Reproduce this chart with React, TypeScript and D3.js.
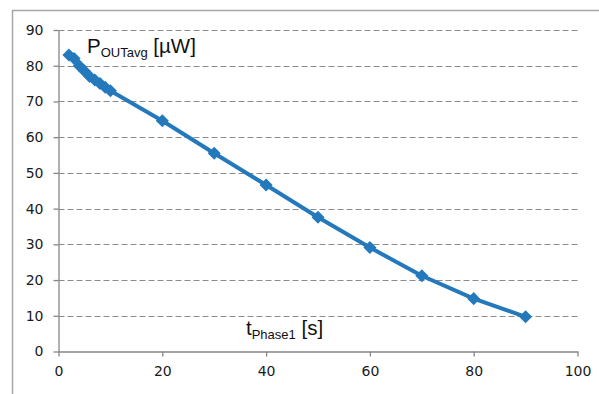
import { useEffect, useRef } from 'react';
import * as d3 from 'd3';

// t_Phase1 [s]
const phaseTimes = [2, 3, 4, 5, 6, 7, 8, 9, 10, 20, 30, 40, 50, 60, 70, 80, 90];
// P_OUTavg [µW]
const powerValues = [83, 82, 80, 78.5, 77, 76, 75, 74, 73, 64.6, 55.5, 46.6, 37.6, 29.1, 21.2, 14.8, 9.7];
const xTicks = [0, 20, 40, 60, 80, 100];
const yTicks = [0, 10, 20, 30, 40, 50, 60, 70, 80, 90];

function App() {
  const ref = useRef<SVGSVGElement>(null);

  useEffect(() => {
    drawChart();
    // eslint-disable-next-line
  }, []);

  function drawChart() {
    const config = {
      left: 58.5,
      right: 577.5,
      top: 30,
      bottom: 351.5
    };

    const svg = d3.select(ref.current);
    svg.selectAll('*').remove();

    const x = d3.scaleLinear().domain([0, 100]).range([config.left, config.right]);
    const y = d3.scaleLinear().domain([0, 90]).range([config.bottom, config.top]);

    // outer frame (only left and top edges visible)
    svg.append('rect')
      .attr('x', 12.5)
      .attr('y', 10.5)
      .attr('width', 700)
      .attr('height', 500)
      .attr('fill', 'white')
      .attr('stroke', '#a6a6a6')
      .attr('stroke-width', 1.5);

    // grid lines
    svg.append('g')
      .selectAll('line')
      .data(yTicks.filter(d => d > 0))
      .enter()
      .append('line')
      .attr('x1', config.left)
      .attr('x2', config.right)
      .attr('y1', d => Math.round(y(d)) + 0.5)
      .attr('y2', d => Math.round(y(d)) + 0.5)
      .attr('stroke', '#8c8c8c')
      .attr('stroke-dasharray', '6,3');

    const xAxis = svg.append('g')
      .attr('transform', `translate(0,${config.bottom})`)
      .call(d3.axisBottom(x).tickValues(xTicks).tickSize(5).tickSizeOuter(0).tickPadding(10));

    const yAxis = svg.append('g')
      .attr('transform', `translate(${config.left},0)`)
      .call(d3.axisLeft(y).tickValues(yTicks).tickSize(5).tickSizeOuter(0).tickPadding(10));

    [xAxis, yAxis].forEach(a => {
      a.select('.domain').attr('stroke', '#868686').attr('stroke-width', 1.3);
      a.selectAll('.tick line').attr('stroke', '#868686').attr('stroke-width', 1.3);
      a.selectAll('.tick text')
        .attr('fill', '#1a1a1a')
        .style('font-family', 'Verdana, "DejaVu Sans", sans-serif')
        .style('font-size', '14px');
    });

    const points = phaseTimes.map((t, i) => ({ t, p: powerValues[i] }));

    const line = d3.line<{ t: number; p: number }>()
      .x(d => x(d.t))
      .y(d => y(d.p));

    svg.append('path')
      .datum(points)
      .attr('d', line)
      .attr('fill', 'none')
      .attr('stroke', '#2479bd')
      .attr('stroke-width', 4)
      .attr('stroke-linejoin', 'round');

    // diamond markers: squares turned by 45 degrees
    svg.append('g')
      .selectAll('path')
      .data(points)
      .enter()
      .append('path')
      .attr('d', d3.symbol().type(d3.symbolSquare).size(85))
      .attr('transform', d => `translate(${x(d.t)},${y(d.p)}) rotate(45)`)
      .attr('fill', '#2479bd');

    // annotations
    const labelFont = 'Arial, "Liberation Sans", sans-serif';

    const pLabel = svg.append('text')
      .attr('x', 87)
      .attr('y', 53)
      .attr('fill', '#111')
      .style('font-family', labelFont)
      .style('font-size', '20.5px');
    pLabel.append('tspan').text('P');
    pLabel.append('tspan').attr('dy', 4).style('font-size', '13px').text('OUTavg');
    pLabel.append('tspan').attr('dy', -4).text(' [µW]');

    const tLabel = svg.append('text')
      .attr('x', 246)
      .attr('y', 335)
      .attr('fill', '#111')
      .style('font-family', labelFont)
      .style('font-size', '20.5px');
    tLabel.append('tspan').text('t');
    tLabel.append('tspan').attr('dy', 4).style('font-size', '13px').text('Phase1');
    tLabel.append('tspan').attr('dy', -4).text(' [s]');
  }

  return (
    <svg ref={ref} width={599} height={394}
      style={{ position: 'absolute', left: 0, top: 0, background: 'white' }}>
    </svg>
  );
}

export default App;
